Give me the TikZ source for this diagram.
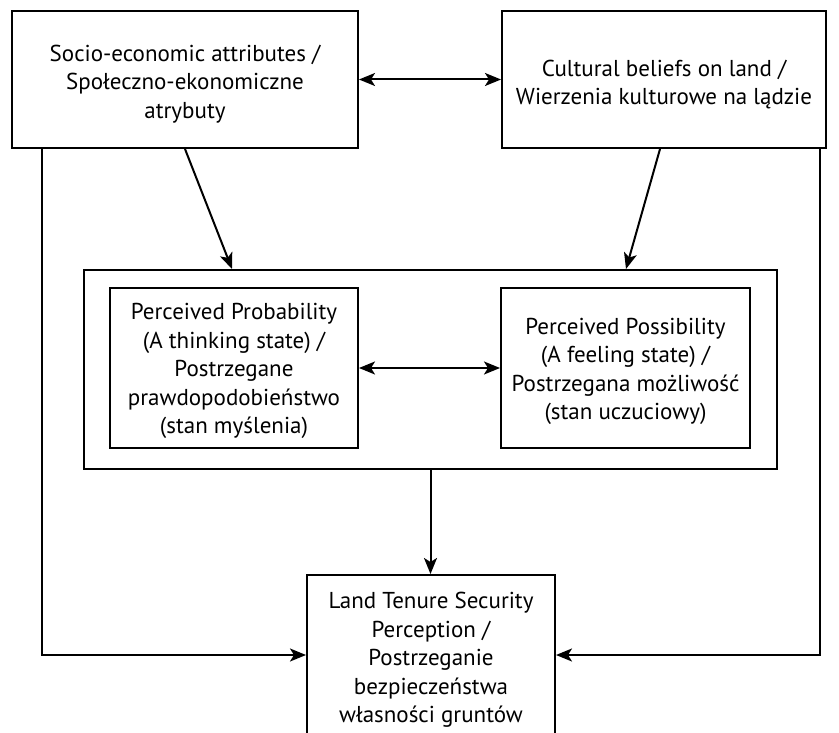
\documentclass[tikz,border=0pt]{standalone}
\usepackage{fontspec}
\setmainfont{PT Sans}
\usetikzlibrary{arrows.meta}
\newcommand\mytopstrut[1]{\rule{0pt}{#1}}
\begin{document}
\begin{tikzpicture}[x=1pt,y=-1pt,
  box/.style={draw, line width=2pt, inner sep=0pt, align=center,
    font=\fontsize{23}{28.5}\selectfont},
  arr/.style={line width=2pt, -{Stealth[length=16pt,width=13pt,inset=4pt]}},
  darr/.style={line width=2pt, {Stealth[length=16pt,width=13pt,inset=4pt]}-{Stealth[length=16pt,width=13pt,inset=4pt]}}]
\useasboundingbox (0,0) rectangle (839,733);
\clip (0,0) rectangle (839,733);
\node[box, minimum width=346pt, minimum height=137pt] (A) at (185,79.5)
  {\mytopstrut{25pt}Socio-economic attributes /\\ Społeczno-ekonomiczne\\ atrybuty};
\node[box, minimum width=324pt, minimum height=137pt] (B) at (664,79.5)
  {\mytopstrut{26pt}Cultural beliefs on land /\\ Wierzenia kulturowe na lądzie};
\node[box, minimum width=693pt, minimum height=199pt] (Outer) at (430.5,369.5) {};
\node[box, minimum width=248pt, minimum height=160pt] (L) at (234,368)
  {\mytopstrut{23pt}Perceived Probability\\ (A thinking state) /\\ Postrzegane\\ prawdopodobieństwo\\ (stan myślenia)};
\node[box, minimum width=249pt, minimum height=160pt] (R) at (625.5,368)
  {\mytopstrut{23pt}Perceived Possibility\\ (A feeling state) /\\ Postrzegana możliwość\\ (stan uczuciowy)};
\node[box, minimum width=248pt, minimum height=170pt] (Bot) at (431,660)
  {Land Tenure Security\\ Perception /\\ Postrzeganie\\ bezpieczeństwa\\ własności gruntów};
\draw[darr] (A.east) -- (B.west);
\draw[darr] (L.east) -- (R.west);
\draw[arr] (A.south) -- ([xshift=-198.5pt]Outer.north);
\draw[arr] ([xshift=-4pt]B.south) -- ([xshift=195.5pt]Outer.north);
\draw[arr] (Outer.south) -- (Outer.south |- Bot.north);
\draw[arr] ([xshift=31pt]A.south west) |- ([yshift=5pt]Bot.west);
\draw[arr] ([xshift=-7pt]B.south east) |- ([yshift=5pt]Bot.east);
\end{tikzpicture}
\end{document}
